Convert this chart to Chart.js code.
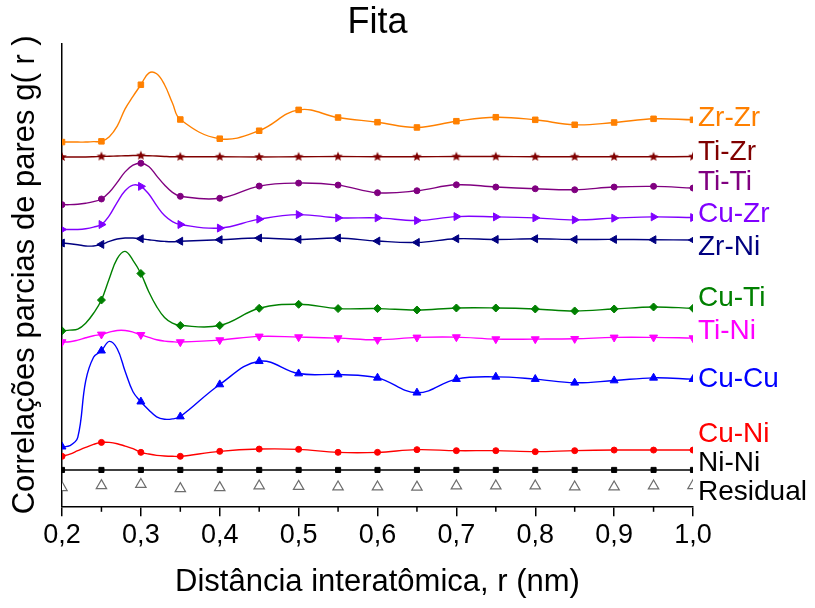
<!DOCTYPE html>
<html><head><meta charset="utf-8">
<script src="https://cdn.jsdelivr.net/npm/chart.js@4/dist/chart.umd.min.js"></script>
<style>html,body{margin:0;padding:0;background:#fff;}canvas{display:block;}</style>
</head><body>
<canvas id="c" width="815" height="608"></canvas>
<script>
// distance grid (nm)
const r = [0.20,0.21,0.22,0.23,0.24,0.25,0.26,0.27,0.28,0.29,0.30,0.31,0.32,0.33,0.34,0.35,0.40,0.45,0.50,0.55,0.60,0.65,0.70,0.75,0.80,0.85,0.90,0.95,1.00];
const seriesNames = ['Zr-Zr','Ti-Zr','Ti-Ti','Cu-Zr','Zr-Ni','Cu-Ti','Ti-Ni','Cu-Cu','Cu-Ni','Ni-Ni','Residual'];
// offset partial g(r) curves (arbitrary units)
const zrZr = [365.3,365.3,365.3,365.3,365.7,366,370.7,381.3,398.7,411.3,423,434.7,434,423,404.7,388,368.7,376.7,397.7,390,385.3,380,386.3,390.3,387.7,382.7,385,388.7,387.7];
const tiZr = [350.3,350.3,350.3,350.3,350.5,350.8,351,351.3,351.5,351.7,351.7,351.5,351.2,350.8,350.5,350.5,350.5,350.3,350.5,350.7,350.5,350.5,350.7,350.7,350.5,350.5,350.5,350.5,350.7];
const tiTi = [302.3,302.3,302.7,303.7,305.3,308,314.7,324.7,335.3,342,344,340.7,331.3,322,314.7,310.7,308.7,321,324,322,314.3,316.3,322.3,320,318.3,317.3,320,320.7,319];
const cuZr = [277.3,277.3,277.3,278,279.7,282.3,291.3,304.7,316.3,322,320.7,313,301.3,291.3,285.3,282.3,278.7,287.7,292.3,289,289,286.3,290.3,290,289,287,288.7,290,289.3];
const zrNi = [263.7,263,262,260.7,260.7,262.3,265.3,267.7,268.7,268.7,268,267,266,265.3,265,265.5,267,268.7,267.3,268.7,265.7,264.3,268,267.3,268,267.3,267.3,267,266.7];
const cuTi = [175.3,176,177,183,193,206.3,228,248,255.3,246.3,233,214.7,199.7,188.7,183,180.7,180.7,198,202,197.7,197.7,196.3,198.3,198.3,197.3,195.3,197.3,199.3,198];
const tiNi = [164,164.3,166,168.3,170.3,171.7,174,175.7,175.7,174,171.3,168.7,166.3,165,164.3,164,166,169.7,169,168,166.3,168.7,169,167,167,167.3,168.7,168.7,168];
const cuCu = [58.7,59.7,68,124.7,148.7,155.3,164.7,157.3,134.7,114,104,95.7,88.7,86.3,86.7,89,121.3,144.7,132.3,131.3,128,113,126.7,129,126.7,123,125.3,128,126.7];
const cuNi = [49,51.3,54.7,58,61,63,63,61.7,59.3,56.7,53,51.3,50,49.3,49,49,54,56.3,56,53,53,55.7,54.7,54.7,53.7,54.7,55.3,55.3,55.3];
const niNi = [35.3,35.3,35.3,35.3,35.3,35.3,35.3,35.3,35.3,35.3,35.3,35.3,35.3,35.3,35.3,35.3,35.3,35.3,35.3,35.3,35.3,35.3,35.3,35.3,35.3,35.3,35.3,35.3,35.3];
const residual = [17.5,null,null,null,null,19.5,null,null,null,null,20.7,null,null,null,null,16.5,17.5,19.2,18.8,18.2,18.2,18,19.2,19.2,19.2,18.2,18.2,19.2,19.5];
// x tick labels
const xTickLabels = ['0,2','0,3','0,4','0,5','0,6','0,7','0,8','0,9','1,0'];
const minorTicks = [0.25,0.35,0.45,0.55,0.65,0.75,0.85,0.95];
// label anchor (y units) for the right-side names
const labelY = [389,355,325,293,259.5,208,175,126.5,71.5,42,13];

Chart.defaults.font.family = "'Liberation Sans', Arial, sans-serif";
Chart.defaults.color = '#000';

function starImg(color, R) {
  const c = document.createElement('canvas');
  const s = Math.ceil(R * 2) + 2;
  c.width = c.height = s;
  const g = c.getContext('2d');
  g.fillStyle = color;
  g.beginPath();
  for (let k = 0; k < 10; k++) {
    const a = -Math.PI / 2 + k * Math.PI / 5;
    const rr = (k % 2) ? R * 0.45 : R;
    g.lineTo(s / 2 + rr * Math.cos(a), s / 2 + rr * Math.sin(a));
  }
  g.closePath(); g.fill();
  return c;
}
const isMark = (ctx) => {
  const x = ctx.raw && ctx.raw.x;
  return x != null && Math.abs(x * 20 - Math.round(x * 20)) < 1e-6;
};
const styles = [
  {color:'#FF8000', style:'rect', rad:3.9},
  {color:'#800000', style:starImg('#800000', 5), rad:4},
  {color:'#800080', style:'circle', rad:3},
  {color:'#8000FF', style:'triangle', rot:90, rad:4.6},
  {color:'#000080', style:'triangle', rot:-90, rad:4.6},
  {color:'#008000', style:'rectRot', rad:4},
  {color:'#FF00FF', style:'triangle', rot:180, rad:4.6},
  {color:'#0000FF', style:'triangle', rad:4.6},
  {color:'#FF0000', style:'circle', rad:3},
  {color:'#000000', style:'rect', rad:3.6}
];
const curves = [zrZr, tiZr, tiTi, cuZr, zrNi, cuTi, tiNi, cuCu, cuNi, niNi];
const datasets = curves.map((arr, i) => ({
  label: seriesNames[i],
  data: r.map((x, j) => ({x: x, y: arr[j]})),
  borderColor: styles[i].color,
  backgroundColor: styles[i].color,
  pointBackgroundColor: styles[i].color,
  pointBorderColor: styles[i].color,
  pointBorderWidth: 1,
  borderWidth: 1.4,
  tension: 0.4,
  pointStyle: styles[i].style,
  pointRotation: styles[i].rot || 0,
  pointRadius: (ctx) => isMark(ctx) ? styles[i].rad : 0,
  pointHoverRadius: (ctx) => isMark(ctx) ? styles[i].rad : 0
}));
datasets.push({
  label: 'Residual',
  data: r.map((x, j) => ({x: x, y: residual[j]})),
  showLine: false,
  pointStyle: 'triangle',
  pointRadius: 6,
  pointBorderWidth: 1.2,
  pointBorderColor: '#6e6e6e',
  pointBackgroundColor: '#ffffff',
  borderColor: '#6e6e6e',
  backgroundColor: '#ffffff'
});
const labelColors = styles.map(s => s.color).concat(['#000000']);

const extras = {
  id: 'extras',
  afterDraw(chart) {
    const {ctx, chartArea, scales} = chart;
    const xs = scales.x, ys = scales.y;
    ctx.save();
    ctx.strokeStyle = '#000'; ctx.lineWidth = 1.5;
    minorTicks.forEach(v => {
      const px = xs.getPixelForValue(v);
      ctx.beginPath(); ctx.moveTo(px, chartArea.bottom); ctx.lineTo(px, chartArea.bottom + 5.5); ctx.stroke();
    });
    ctx.font = "28px 'Liberation Sans', Arial, sans-serif";
    ctx.textBaseline = 'middle'; ctx.textAlign = 'left';
    seriesNames.forEach((n, i) => {
      ctx.fillStyle = labelColors[i];
      ctx.fillText(n, chartArea.right + 5, ys.getPixelForValue(labelY[i]));
    });
    ctx.restore();
  }
};

new Chart(document.getElementById('c'), {
  type: 'line',
  data: {datasets},
  plugins: [extras],
  options: {
    responsive: false,
    animation: false,
    events: [],
    layout: {padding: {left: 7, right: 122, top: 0, bottom: 7.4}},
    plugins: {
      legend: {display: false},
      tooltip: {enabled: false},
      title: {display: true, text: 'Fita', fullSize: false, color: '#000',
        font: {size: 36, weight: 'normal', lineHeight: 1.15}, padding: {top: 2, bottom: 0}}
    },
    scales: {
      x: {
        type: 'linear', min: 0.2, max: 1.0,
        ticks: {stepSize: 0.1, padding: 3, font: {size: 27}, color: '#000', maxRotation: 0, autoSkip: false,
          callback: (v) => xTickLabels[Math.round((v - 0.2) * 10)]},
        grid: {display: true, drawOnChartArea: false, drawTicks: true, tickLength: 10, color: '#000', lineWidth: 1.5},
        border: {display: true, color: '#000', width: 1.5},
        title: {display: true, text: 'Distância interatômica, r (nm)', color: '#000',
          font: {size: 31}, padding: {top: 8.7, bottom: 0}}
      },
      y: {
        type: 'linear', min: -1.3, max: 464.6,
        ticks: {display: false},
        grid: {display: false, drawTicks: false},
        border: {display: true, color: '#000', width: 1.5},
        title: {display: true, text: 'Correlações parcias de pares g( r )', color: '#000',
          font: {size: 31}, padding: {top: 0, bottom: 17.8}}
      }
    }
  }
});
</script>
</body></html>
